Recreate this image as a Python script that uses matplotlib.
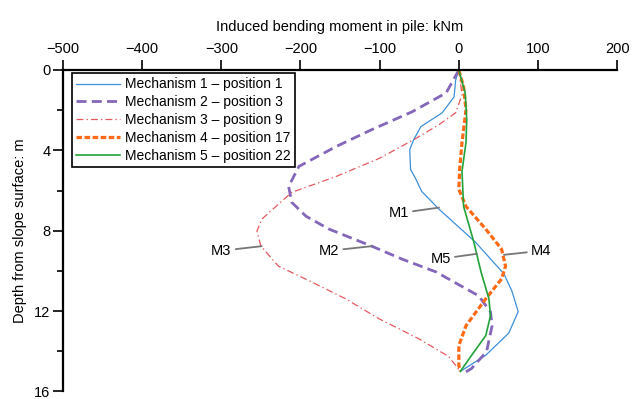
import numpy as np
import matplotlib
matplotlib.use('Agg')
import matplotlib.pyplot as plt

plt.rcParams['font.family'] = ['Liberation Sans', 'DejaVu Sans']
plt.rcParams['lines.scale_dashes'] = False

# depth (m) / bending moment (kNm)
m1_z = [0, 0.5, 1.34, 2.13, 2.82, 3.47, 3.96, 4.95, 5.45, 6.04, 6.93, 8.57, 10.15, 11.0, 12.03, 13.1, 14.2, 15.0]
m1_m = [0, -4, -6, -21, -48, -57, -62, -61, -54, -47, -25, 21, 57, 67, 75, 63, 34, 2]

m2_z = [0, 1.14, 2.08, 2.97, 3.81, 4.8, 5.8, 6.59, 7.28, 7.92, 8.77, 9.41, 10.05, 11.24, 12.04, 12.73, 14.02, 14.86, 15.05]
m2_m = [0, -16, -59, -110, -155, -202, -215, -211, -193, -164, -110, -72, -29, 25, 40, 42, 35, 16, 8]

m3_z = [0, 1.24, 2.13, 2.72, 3.47, 4.41, 5.3, 6.09, 6.79, 7.43, 8.02, 8.77, 9.76, 10.55, 11.39, 12.38, 13.37, 14.26, 15.0]
m3_m = [0, 4, -4, -25, -57, -101, -155, -211, -231, -249, -255, -250, -228, -186, -143, -101, -51, -13, 2]

m4_z = [0, 0.84, 1.98, 3.62, 4.95, 5.94, 6.79, 7.92, 8.92, 9.76, 10.4, 11.39, 12.73, 13.72, 14.71, 15.0]
m4_m = [0, 6, 9, 4, 1, 0, 9, 34, 54, 59, 54, 34, 9, 0, 0, 2]

m5_z = [0, 1.14, 2.48, 3.62, 5.05, 6.79, 8.57, 10.05, 11.39, 12.23, 13.22, 14.21, 15.0]
m5_m = [0, 8, 10, 9, 4, 6, 19, 28, 38, 40, 34, 16, 2]

labels = ['Mechanism 1 \u2013 position 1', 'Mechanism 2 \u2013 position 3',
          'Mechanism 3 \u2013 position 9', 'Mechanism 4 \u2013 position 17',
          'Mechanism 5 \u2013 position 22']

# annotation: name, text position, line end on curve
notes = [('M1', (-76, 7.13), (-25, 6.85)),
         ('M2', (-164, 9.0), (-110, 8.77)),
         ('M3', (-300, 9.0), (-249, 8.77)),
         ('M4', (104, 9.0), (57, 9.2)),
         ('M5', (-23, 9.4), (23, 9.15))]

fig = plt.figure(figsize=(6.33, 3.99), dpi=100)
ax = fig.add_axes([0.0995, 0.019, 0.8755, 0.8056])

ax.plot(m1_m, m1_z, color='#3d8fdb', lw=0.9, label=labels[0])
ax.plot(m2_m, m2_z, color='#8466bb', lw=2.0, dashes=[7.2, 3.8], label=labels[1])
ax.plot(m3_m, m3_z, color='#e4585e', lw=0.9, dashes=[5, 2.2, 1, 2.2], label=labels[2])
ax.plot(m4_m, m4_z, color='#ff6a16', lw=2.3, dashes=[4.0, 1.8], label=labels[3])
ax.plot(m5_m, m5_z, color='#22a33a', lw=1.2, label=labels[4])

for name, txt, end in notes:
    ax.annotate(name, xy=end, xytext=txt, fontsize=10.5, ha='center', va='center',
                arrowprops=dict(arrowstyle='-', color='#777777', lw=1.3,
                                shrinkA=1, shrinkB=0))

ax.set_xlim(-500, 200)
ax.set_ylim(16, 0)
ax.xaxis.tick_top()
ax.xaxis.set_label_position('top')
ax.set_xticks(np.arange(-500, 201, 100))
ax.set_xticklabels([str(v).replace('-', '\u2212') for v in range(-500, 201, 100)])
ax.set_yticks([0, 4, 8, 12, 16])
ax.set_yticks([2, 6, 10, 14], minor=True)
ax.tick_params(axis='both', which='major', labelsize=10.5, length=7, width=1.2, direction='out', pad=2)
ax.tick_params(axis='y', which='minor', length=4, width=1.2, direction='out')
ax.tick_params(axis='x', which='major', pad=3)

ax.spines['right'].set_visible(False)
ax.spines['bottom'].set_visible(False)
ax.spines['top'].set_linewidth(1.6)
ax.spines['left'].set_linewidth(1.6)

ax.set_xlabel('Induced bending moment in pile: kNm', fontsize=10.5, labelpad=8)
ax.set_ylabel('Depth from slope surface: m', fontsize=10.5, labelpad=5)

leg = ax.legend(loc='upper left', bbox_to_anchor=(0.016, 0.99), fontsize=10,
                frameon=True, fancybox=False, edgecolor='black', framealpha=1,
                handlelength=3.2, handletextpad=0.35, labelspacing=0.28,
                borderpad=0.3, borderaxespad=0)
leg.get_frame().set_linewidth(1.2)

fig.savefig('out.png', dpi=100)
